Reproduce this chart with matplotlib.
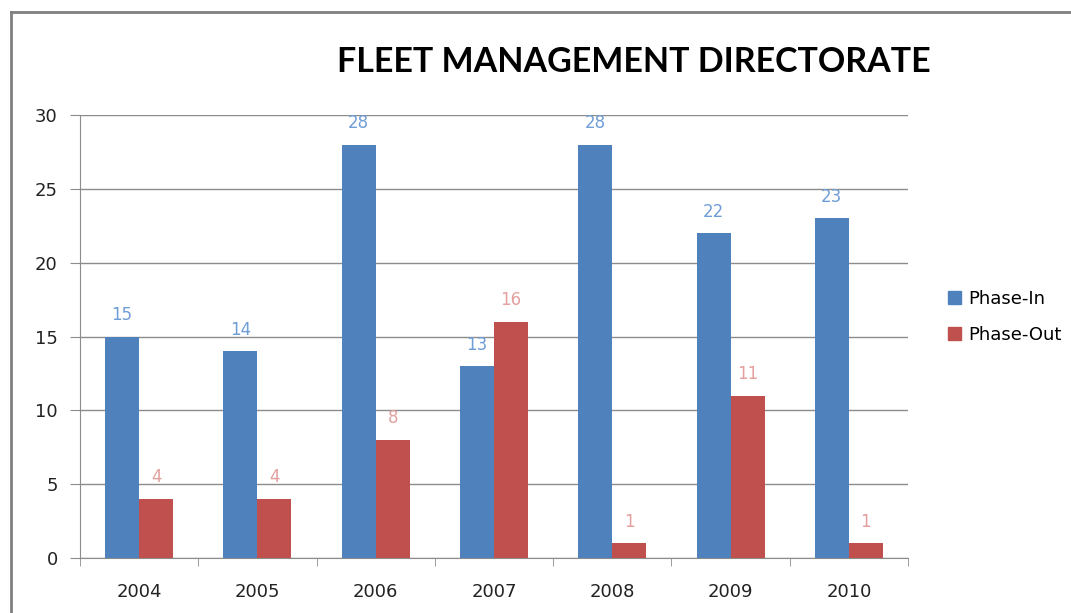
import matplotlib
matplotlib.use("Agg")
import matplotlib.pyplot as plt
from matplotlib.lines import Line2D
from matplotlib.patches import Patch
import numpy as np

years = ["2004", "2005", "2006", "2007", "2008", "2009", "2010"]
phase_in = [15, 14, 28, 13, 28, 22, 23]
phase_out = [4, 4, 8, 16, 1, 11, 1]
yticks = [0, 5, 10, 15, 20, 25, 30]

blue = "#4F81BD"
red = "#C0504D"
blue_lbl = "#6F9DD6"
red_lbl = "#E3A09E"
grid = "#8C8C8C"

plt.rcParams['font.family'] = ['DejaVu Sans']

fig = plt.figure(figsize=(10.71, 6.13), dpi=100)
# outer border
fig.add_artist(Line2D([11/1071, 11/1071], [0, 1 - 12/613], color="#808080", lw=2, transform=fig.transFigure))
fig.add_artist(Line2D([11/1071, 1], [1 - 12/613, 1 - 12/613], color="#808080", lw=2, transform=fig.transFigure))

ax = fig.add_axes([80/1071, 1 - 558/613, (908 - 80)/1071, (558 - 115)/613])
x = np.arange(len(years))
w = 34 / 118.3
ax.bar(x - w/2, phase_in, w, color=blue, label="Phase-In", zorder=3)
ax.bar(x + w/2, phase_out, w, color=red, label="Phase-Out", zorder=3)

for xi, v in zip(x, phase_in):
    ax.annotate(str(v), (xi - w/2, v), xytext=(0, 9), textcoords="offset points",
                ha="center", va="bottom", color=blue_lbl, fontsize=12)
for xi, v in zip(x, phase_out):
    ax.annotate(str(v), (xi + w/2, v), xytext=(0, 9), textcoords="offset points",
                ha="center", va="bottom", color=red_lbl, fontsize=12)

ax.set_xlim(-0.5, len(years) - 0.5)
ax.set_ylim(0, 30)
ax.set_yticks(yticks)
ax.set_yticklabels([str(t) for t in yticks])
ax.yaxis.grid(True, color=grid, lw=1, zorder=0)
ax.set_axisbelow(True)

ax.set_xticks(x)
ax.set_xticklabels(years)
ax.set_xticks(np.arange(len(years) + 1) - 0.5, minor=True)
ax.tick_params(axis="x", which="major", length=0, pad=18, labelsize=13, colors="#222222")
ax.tick_params(axis="x", which="minor", length=6, color=grid, direction="out")
ax.tick_params(axis="y", length=7, color=grid, pad=9, labelsize=13, colors="#222222")

for s in ["top", "right"]:
    ax.spines[s].set_visible(False)
ax.spines["left"].set_color(grid)
ax.spines["bottom"].set_color(grid)

fig.text(634/1071, 1 - 62/613, "FLEET MANAGEMENT DIRECTORATE", ha="center", va="center",
         fontsize=24.5, fontweight="bold", family="Lato", color="#000000")

handles = [Patch(color=blue), Patch(color=red)]
fig.legend(handles, ["Phase-In", "Phase-Out"], loc="center left",
           bbox_to_anchor=(932/1071, 1 - 317/613), frameon=False, fontsize=13,
           handlelength=0.7, handleheight=0.7, handletextpad=0.4, labelspacing=1.0)

fig.savefig("out.png", dpi=100)
